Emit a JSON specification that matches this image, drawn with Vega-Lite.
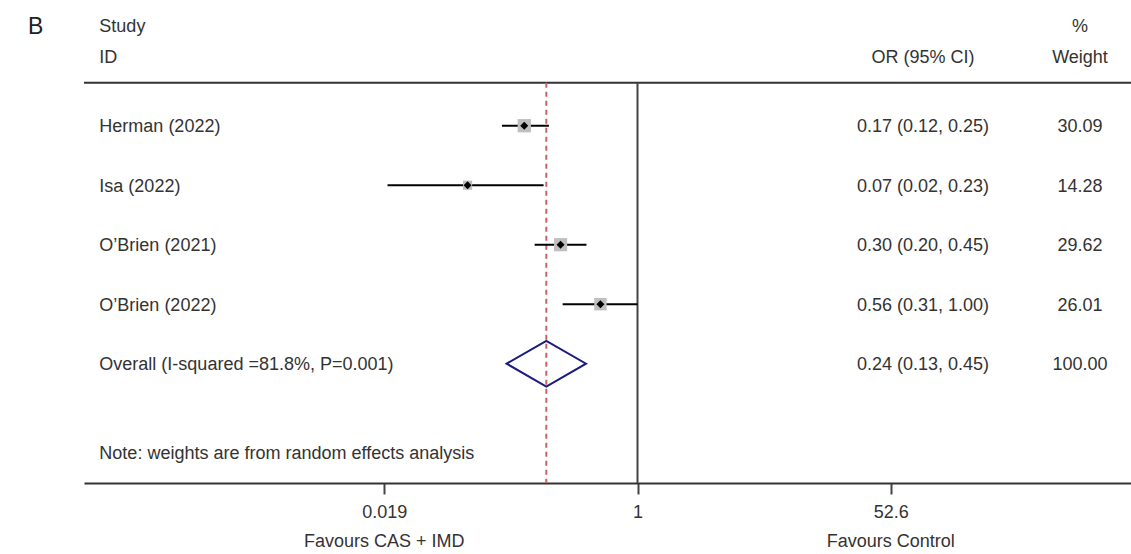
{
  "$schema": "https://vega.github.io/schema/vega-lite/v6.json",
  "width": 1047,
  "height": 483,
  "autosize": {"type": "none"},
  "padding": {"left": 84, "top": 0, "right": 0, "bottom": 71},
  "background": "white",
  "config": {
    "font": "Liberation Sans",
    "view": {"stroke": null},
    "text": {"font": "Liberation Sans", "fontSize": 18, "color": "#333333", "dy": 1.5}
  },
  "data": {"values": [{}]},
  "datasets": {
    "studies": [
      {"study": "Herman (2022)", "row": 1, "or": 0.17, "lo": 0.12, "hi": 0.25, "weight": 30.09, "ci": "0.17 (0.12, 0.25)", "w": "30.09"},
      {"study": "Isa (2022)", "row": 2, "or": 0.07, "lo": 0.02, "hi": 0.23, "weight": 14.28, "ci": "0.07 (0.02, 0.23)", "w": "14.28"},
      {"study": "O’Brien (2021)", "row": 3, "or": 0.30, "lo": 0.20, "hi": 0.45, "weight": 29.62, "ci": "0.30 (0.20, 0.45)", "w": "29.62"},
      {"study": "O’Brien (2022)", "row": 4, "or": 0.56, "lo": 0.31, "hi": 1.00, "weight": 26.01, "ci": "0.56 (0.31, 1.00)", "w": "26.01"}
    ],
    "overall": [
      {"study": "Overall (I-squared =81.8%, P=0.001)", "row": 5, "or": 0.24, "lo": 0.13, "hi": 0.45, "weight": 100, "ci": "0.24 (0.13, 0.45)", "w": "100.00"}
    ]
  },
  "layer": [
    {
      "mark": {"type": "rule", "color": "#333333", "strokeWidth": 2},
      "encoding": {
        "y": {"datum": 0.277, "type": "quantitative", "scale": {"domain": [-1.1126, 7.005], "reverse": true, "nice": false, "zero": false}, "axis": null}
      }
    },
    {
      "mark": {"type": "rule", "color": "#444444", "strokeWidth": 2},
      "encoding": {
        "x": {
          "datum": 1, "type": "quantitative",
          "scale": {"type": "log", "domain": [0.000173, 2260], "nice": false},
          "axis": {
            "values": [0.019, 1, 52.6],
            "format": "~g",
            "title": null,
            "grid": false,
            "domainColor": "#333333",
            "domainWidth": 2,
            "tickColor": "#444444",
            "tickWidth": 2,
            "tickSize": 11,
            "labelFontSize": 18,
            "labelFont": "Liberation Sans",
            "labelColor": "#333333",
            "labelPadding": 9,
            "labelFlush": false
          }
        },
        "y": {"datum": 0.277},
        "y2": {"datum": 7.005}
      }
    },
    {
      "data": {"name": "overall"},
      "mark": {"type": "rule", "color": "#c46464", "strokeWidth": 2, "strokeDash": [5, 4]},
      "encoding": {
        "x": {"field": "or", "type": "quantitative"},
        "y": {"datum": 0.277},
        "y2": {"datum": 7.005}
      }
    },
    {
      "data": {"name": "studies"},
      "mark": {"type": "rule", "color": "#000000", "strokeWidth": 2},
      "encoding": {
        "x": {"field": "lo", "type": "quantitative"},
        "x2": {"field": "hi"},
        "y": {"field": "row", "type": "quantitative"}
      }
    },
    {
      "data": {"name": "studies"},
      "mark": {"type": "point", "shape": "square", "filled": true, "color": "#bfbfbf", "opacity": 1},
      "encoding": {
        "x": {"field": "or", "type": "quantitative"},
        "y": {"field": "row", "type": "quantitative"},
        "size": {"field": "weight", "type": "quantitative", "scale": {"domain": [0, 30.09], "range": [0, 177]}, "legend": null}
      }
    },
    {
      "data": {"name": "studies"},
      "mark": {"type": "point", "shape": "diamond", "filled": true, "color": "#000000", "opacity": 1, "size": 64},
      "encoding": {
        "x": {"field": "or", "type": "quantitative"},
        "y": {"field": "row", "type": "quantitative"}
      }
    },
    {
      "data": {"name": "overall"},
      "mark": {"type": "point", "shape": "M-1,0L0,-0.575L1,0L0,0.575Z", "filled": false, "stroke": "#1c1c80", "strokeWidth": 2, "opacity": 1, "size": 6300},
      "encoding": {
        "x": {"field": "or", "type": "quantitative"},
        "y": {"field": "row", "type": "quantitative"}
      }
    },
    {
      "data": {"name": "studies"},
      "mark": {"type": "text", "align": "left", "baseline": "middle"},
      "encoding": {
        "x": {"datum": 0.00022},
        "y": {"field": "row", "type": "quantitative"},
        "text": {"field": "study"}
      }
    },
    {
      "data": {"name": "overall"},
      "mark": {"type": "text", "align": "left", "baseline": "middle"},
      "encoding": {
        "x": {"datum": 0.00022},
        "y": {"field": "row", "type": "quantitative"},
        "text": {"field": "study"}
      }
    },
    {
      "data": {"name": "studies"},
      "mark": {"type": "text", "align": "center", "baseline": "middle"},
      "encoding": {
        "x": {"datum": 87.2},
        "y": {"field": "row", "type": "quantitative"},
        "text": {"field": "ci"}
      }
    },
    {
      "data": {"name": "overall"},
      "mark": {"type": "text", "align": "center", "baseline": "middle"},
      "encoding": {
        "x": {"datum": 87.2},
        "y": {"field": "row", "type": "quantitative"},
        "text": {"field": "ci"}
      }
    },
    {
      "data": {"name": "studies"},
      "mark": {"type": "text", "align": "center", "baseline": "middle"},
      "encoding": {
        "x": {"datum": 1017},
        "y": {"field": "row", "type": "quantitative"},
        "text": {"field": "w"}
      }
    },
    {
      "data": {"name": "overall"},
      "mark": {"type": "text", "align": "center", "baseline": "middle"},
      "encoding": {
        "x": {"datum": 1017},
        "y": {"field": "row", "type": "quantitative"},
        "text": {"field": "w"}
      }
    },
    {
      "mark": {"type": "text", "align": "left", "baseline": "middle", "text": "Study"},
      "encoding": {"x": {"datum": 0.00022}, "y": {"datum": -0.692}}
    },
    {
      "mark": {"type": "text", "align": "left", "baseline": "middle", "text": "ID"},
      "encoding": {"x": {"datum": 0.00022}, "y": {"datum": -0.16}}
    },
    {
      "mark": {"type": "text", "align": "center", "baseline": "middle", "text": "OR (95% CI)"},
      "encoding": {"x": {"datum": 87.2}, "y": {"datum": -0.16}}
    },
    {
      "mark": {"type": "text", "align": "center", "baseline": "middle", "text": "%"},
      "encoding": {"x": {"datum": 1017}, "y": {"datum": -0.692}}
    },
    {
      "mark": {"type": "text", "align": "center", "baseline": "middle", "text": "Weight"},
      "encoding": {"x": {"datum": 1017}, "y": {"datum": -0.16}}
    },
    {
      "mark": {"type": "text", "align": "left", "baseline": "middle", "text": "Note: weights are from random effects analysis"},
      "encoding": {"x": {"datum": 0.00022}, "y": {"datum": 6.5}}
    },
    {
      "mark": {"type": "text", "align": "center", "baseline": "middle", "text": "Favours CAS + IMD", "clip": false},
      "encoding": {"x": {"datum": 0.019}, "y": {"datum": 7.963}}
    },
    {
      "mark": {"type": "text", "align": "center", "baseline": "middle", "text": "Favours Control", "clip": false},
      "encoding": {"x": {"datum": 52.6}, "y": {"datum": 7.963}}
    },
    {
      "mark": {"type": "text", "align": "left", "baseline": "middle", "text": "B", "fontSize": 23, "color": "#222222", "clip": false},
      "encoding": {"x": {"datum": 0.0000721}, "y": {"datum": -0.692}}
    }
  ]
}
